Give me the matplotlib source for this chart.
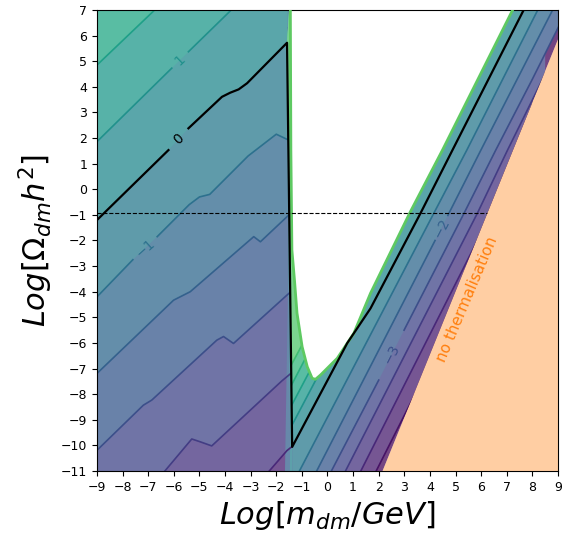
import numpy as np
import matplotlib
matplotlib.use("Agg")
import matplotlib.pyplot as plt
from matplotlib import colors
from matplotlib.patches import Polygon

# ---- data (x = Log m_dm/GeV, y = Log Omega h^2) ----
# contours left of the jump near m ~ 0.03 GeV
lm5_x = [-2.6, -2.36, -1.58, -1.2]
lm5_y = [-11.5, -11.1, -10.2, -9.9]
lm4_x = [-6.6, -6.35, -5.3, -4.97, -4.52, -1.78, -1.2]
lm4_y = [-11.3, -11.0, -9.75, -9.86, -10.02, -7.48, -7.0]
lm3_x = [-9.3, -9.0, -7.19, -6.86, -4.32, -4.06, -3.67, -1.58, -1.2]
lm3_y = [-10.5, -10.19, -8.43, -8.23, -5.89, -5.75, -6.02, -4.13, -3.8]
lm2_x = [-9.3, -9.0, -6.01, -5.36, -2.88, -2.62, -1.58, -1.2]
lm2_y = [-7.5, -7.19, -4.33, -4.0, -1.85, -2.05, -1.07, -0.7]
lm1_x = [-9.3, -9.0, -7.6, -6.65, -5.4, -5.0, -4.6, -4.1, -3.1, -2.0, -1.58, -1.2]
lm1_y = [-4.5, -4.2, -2.75, -1.85, -0.6, -0.3, -0.2, 0.3, 1.3, 2.15, 1.95, 1.9]
l0_x = [-9.3, -9.0, -6.21, -5.43, -4.12, -3.8, -3.47, -3.14, -1.58]
l0_y = [-1.5, -1.2, 1.53, 2.38, 3.61, 3.77, 3.90, 4.14, 5.72]
l1_x = [-9.3, -9.0, -6.08, -5.43, -3.80, -3.6]
l1_y = [1.56, 1.86, 4.73, 5.37, 6.96, 7.2]
l2_x = [-9.3, -9.0, -6.79, -6.6]
l2_y = [4.56, 4.85, 6.96, 7.2]

# contours right of the jump
r0_x = [-1.38, 0.77, 1.68, 3.64, 4.88, 7.66, 7.8]
r0_y = [-10.06, -6.01, -4.65, -0.92, 1.53, 7.0, 7.3]
rm1_x = [-1.2, 4.16, 5.44, 8.21, 8.4]
rm1_y = [-11.2, -0.92, 1.53, 7.0, 7.4]
rm2_x = [-0.5, 4.2, 4.7, 4.75, 5.99, 8.79, 9.2]
rm2_y = [-11.15, -2.0, -1.02, -0.92, 1.53, 7.0, 7.8]
rm3_x = [0.1, 2.0, 2.99, 5.34, 6.57, 8.0, 9.5]
rm3_y = [-11.1, -7.45, -5.5, -0.92, 1.53, 4.3, 7.3]
rm4_x = [0.6, 5.86, 7.03, 8.5]
rm4_y = [-11.2, -0.92, 1.53, 4.5]
rm5_x = [1.2, 6.4, 8.0]
rm5_y = [-11.2, -0.92, 2.2]
rm6_x = [1.8, 7.0, 8.0]
rm6_y = [-11.2, -0.92, 1.0]
w1_x = [-1.45, 0.0]
w1_y = [-9.33, -6.58]
w2_x = [-1.45, -0.3]
w2_y = [-8.53, -6.35]
w3_x = [-1.45, -0.6]
w3_y = [-7.73, -6.1]
w4_x = [-1.45, -0.9]
w4_y = [-6.93, -5.9]

# edge of the computed region (green) and of the thermalised region
edge_x = [-1.45, -1.43, -1.39, -1.29, -1.19, -0.99, -0.79, -0.60, -0.47,
          -0.27, 0.38, 1.03, 1.68, 3.22, 4.49, 7.23]
edge_y = [7.0, 1.53, -2.37, -3.54, -4.84, -6.15, -6.93, -7.38, -7.42,
          -7.25, -6.60, -5.62, -4.06, -0.91, 1.53, 7.0]
wall_x = [-1.50, -1.58, -1.38, -1.37]
wall_y = [7.0, 5.72, -10.06, -11.0]
# steep band along the jump (crowded contours), left edge
strip_x = [-1.495, -1.66]
strip_y = [-1.0, -11.0]
therm_x = [2.15, 9.0]
therm_y = [-11.0, 5.85]
omega_obs = np.log10(0.12)
obs_x = [-9.0, 6.24]

# contour labels: text, position, angle
lab_text = ["1", "0", "-1", "-2", "-3"]
lab_x = [-5.76, -5.82, -7.12, 4.45, 2.5]
lab_y = [5.05, 1.95, -2.3, -1.5, -6.45]
lab_rot = [44, 43, 42, 63, 63]
lab_lev = [1, 0, -1, -2, -3]
# gaps in the lines where the labels sit (index of point before the gap)
left_lines = [(-5, lm5_x, lm5_y, None), (-4, lm4_x, lm4_y, None),
              (-3, lm3_x, lm3_y, None), (-2, lm2_x, lm2_y, None),
              (-1, lm1_x, lm1_y, 2), (0, l0_x, l0_y, 2),
              (1, l1_x, l1_y, 2), (2, l2_x, l2_y, None)]
right_lines = [(-6, rm6_x, rm6_y, None), (-5, rm5_x, rm5_y, None),
               (-4, rm4_x, rm4_y, None), (-3, rm3_x, rm3_y, 1),
               (-2, rm2_x, rm2_y, 1), (-1, rm1_x, rm1_y, None),
               (0, r0_x, r0_y, None), (1, w1_x, w1_y, None),
               (2, w2_x, w2_y, None), (3, w3_x, w3_y, None),
               (4, w4_x, w4_y, None)]

cmap = plt.get_cmap("viridis")
norm = colors.Normalize(vmin=-6.75, vmax=8.75)
alpha = 0.75


def band(lev):
    r, g, b, _ = cmap(norm(lev + 0.5))
    return (alpha * r + 1 - alpha, alpha * g + 1 - alpha, alpha * b + 1 - alpha)


fig = plt.figure(figsize=(5.63, 5.37), dpi=100)
ax = fig.add_axes([0.1723, 0.1229, 0.8188, 0.8585])
ax.set_xlim(-9, 9)
ax.set_ylim(-11, 7)

# regions on either side of the jump
left_clip = Polygon([(-10, -12), (-10, 8)] + list(zip(wall_x, wall_y)) + [(-1.37, -12)],
                    closed=True, transform=ax.transData)
right_pts = (list(zip(wall_x, wall_y)) + [(-1.37, -12), (therm_x[0], -12)]
             + list(zip(therm_x, therm_y)) + [(9.5, therm_y[1]), (9.5, 8)]
             + list(zip(edge_x, edge_y))[::-1] + [(-1.45, 8)])
right_clip = Polygon(right_pts, closed=True, transform=ax.transData)


def paint(lines, base_lev, clip):
    p = ax.add_patch(Polygon([(-60, -60), (60, -60), (60, 60), (-60, 60)],
                             fc=band(base_lev), ec="none", zorder=1))
    p.set_clip_path(clip)
    for lev, xs, ys, gap in lines:
        pts = list(zip(xs, ys)) + [(xs[-1], 60), (-60, 60), (-60, ys[0])]
        p = ax.add_patch(Polygon(pts, fc=band(lev), ec="none", zorder=1))
        p.set_clip_path(clip)


def draw(lines, clip):
    for lev, xs, ys, gap in lines:
        if lev == 0:
            continue
        segs = [(xs, ys)] if gap is None else [(xs[:gap + 1], ys[:gap + 1]),
                                               (xs[gap + 1:], ys[gap + 1:])]
        for sx, sy in segs:
            ln, = ax.plot(sx, sy, color=cmap(norm(lev)), lw=1.2, zorder=2)
            ln.set_clip_path(clip)


paint(left_lines, -6, left_clip)
paint(right_lines, -7, right_clip)
draw(left_lines, left_clip)
draw(right_lines, right_clip)

# crowded bands along the jump
ax.add_patch(Polygon([(strip_x[0], strip_y[0]), (wall_x[2], wall_y[2]),
                      (wall_x[3], wall_y[3]), (strip_x[1], strip_y[1])],
                     fc=band(-2.5), ec="none", zorder=1.5))
ax.add_patch(Polygon([(wall_x[1], wall_y[1]), (wall_x[2], wall_y[2]),
                      (wall_x[3], wall_y[3]), (wall_x[3] - 0.1, wall_y[3]),
                      (wall_x[2] - 0.08, wall_y[2]), (wall_x[1], wall_y[1] - 3)],
                     fc=band(-0.5), ec="none", zorder=1.6))

ax.plot(edge_x, edge_y, color="#5ec962", lw=2, zorder=3)

# zero contour in black, across the jump
ax.plot(l0_x[:3], l0_y[:3], color="black", lw=1.6, zorder=3.5)
ax.plot(l0_x[3:] + wall_x[2:3] + r0_x[1:], l0_y[3:] + wall_y[2:3] + r0_y[1:],
        color="black", lw=1.6, zorder=3.5)

for t, x, y, r, lev in zip(lab_text, lab_x, lab_y, lab_rot, lab_lev):
    c = "black" if lev == 0 else cmap(norm(lev))
    ax.text(x, y, t.replace("-", "\u2212"), rotation=r, rotation_mode="anchor",
            ha="center", va="center", fontsize=10, color=c, zorder=4)

ax.plot(obs_x, [omega_obs, omega_obs], color="black", lw=0.8, ls="--", zorder=3)

ax.add_patch(Polygon([(therm_x[0], therm_y[0]), (therm_x[1], therm_y[1]),
                      (9.5, therm_y[1]), (9.5, -12), (therm_x[0], -12)],
                     fc="#ff7f0e", alpha=0.38, ec="none", zorder=4))
ax.text(5.45, -4.3, "no thermalisation", rotation=67, rotation_mode="anchor",
        ha="center", va="center", fontsize=11, color="#ff7f0e", zorder=5)

ax.set_xticks(np.arange(-9, 10))
ax.set_yticks(np.arange(-11, 8))
ax.tick_params(labelsize=9)
ax.set_xlabel(r"$Log[m_{dm}/GeV]$", fontsize=22, labelpad=4)
ax.set_ylabel(r"$Log[\Omega_{dm}h^2]$", fontsize=22, labelpad=4)

fig.savefig("out.png", dpi=100)
